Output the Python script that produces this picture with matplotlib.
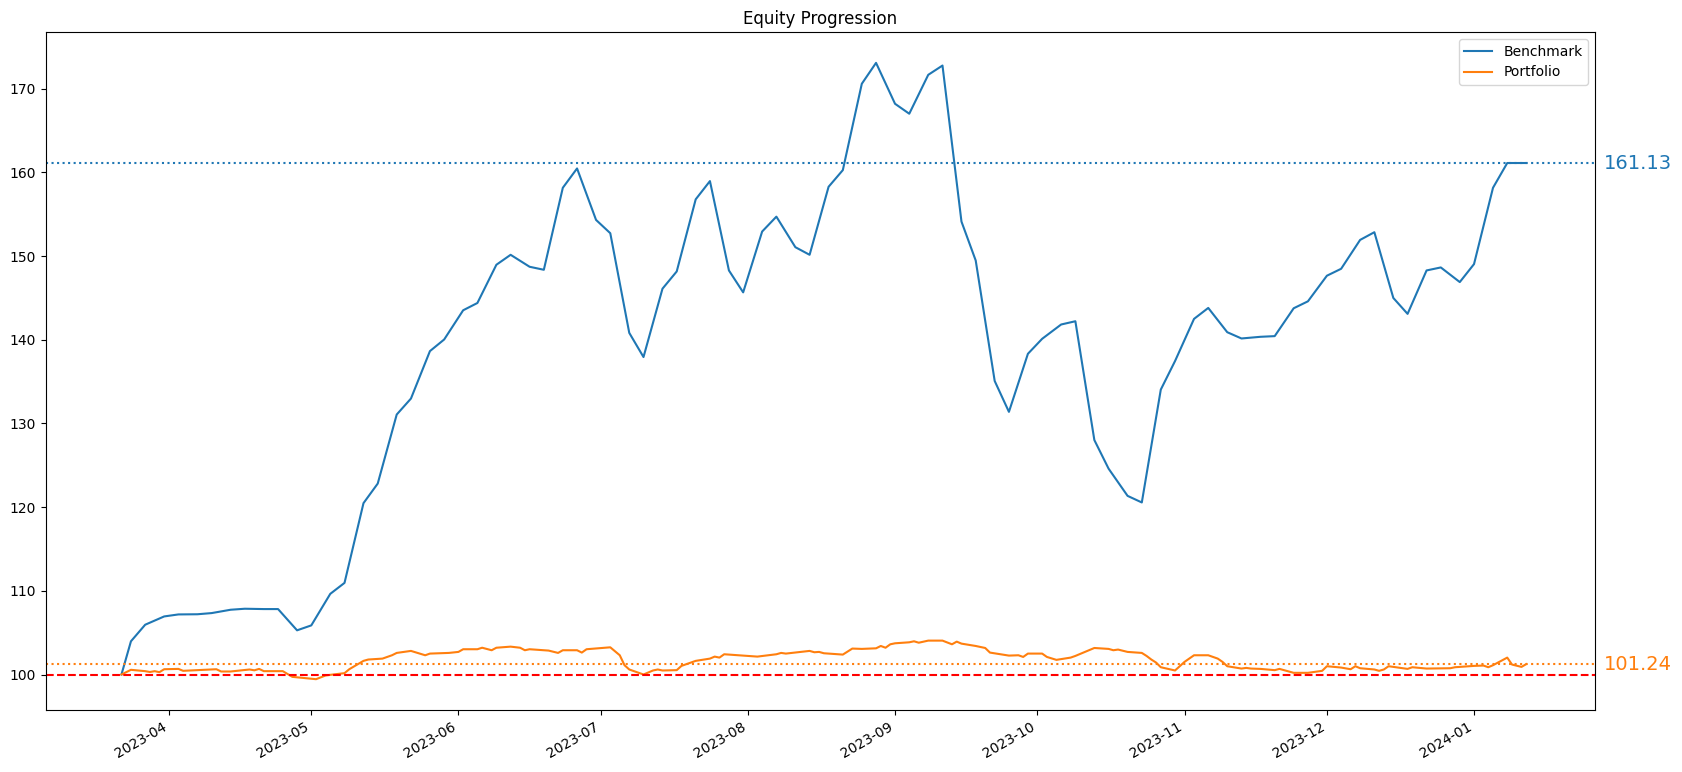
import matplotlib
matplotlib.use("Agg")
import matplotlib.pyplot as plt
import pandas as pd

# Benchmark: sampled on Mondays and Fridays after the start date
bench_dates = pd.DatetimeIndex(["2023-03-22"]).append(
    pd.date_range("2023-03-24", "2024-01-12", freq="W-FRI").union(
        pd.date_range("2023-03-27", "2024-01-12", freq="W-MON")))
bench_values = [
    100.0, 103.97, 105.95, 106.94, 107.18, 107.2, 107.34, 107.74, 107.86, 107.82,
    107.82, 105.28, 105.87, 109.64, 110.95, 120.48, 122.82, 131.07, 132.98, 138.65,
    140.04, 143.53, 144.4, 148.97, 150.16, 148.73, 148.37, 158.17, 160.48, 154.33,
    152.74, 140.83, 137.94, 146.11, 148.17, 156.79, 158.97, 148.29, 145.67, 152.94,
    154.72, 151.07, 150.16, 158.29, 160.28, 170.6, 173.1, 168.21, 167.02, 171.67,
    172.78, 154.13, 149.48, 135.08, 131.39, 138.33, 140.12, 141.83, 142.22, 128.02,
    124.6, 121.35, 120.56, 134.05, 137.46, 142.5, 143.81, 140.91, 140.16, 140.36,
    140.44, 143.77, 144.6, 147.66, 148.49, 151.94, 152.86, 145.0, 143.1, 148.29,
    148.65, 146.9, 149.05, 158.17, 161.13, 161.13,
]

port_dates = pd.to_datetime([
    "2023-03-22", "2023-03-24", "2023-03-27", "2023-03-28", "2023-03-29", "2023-03-30",
    "2023-03-31", "2023-04-03", "2023-04-04", "2023-04-11", "2023-04-12", "2023-04-14",
    "2023-04-18", "2023-04-19", "2023-04-20", "2023-04-21", "2023-04-25", "2023-04-27",
    "2023-05-02", "2023-05-04", "2023-05-05", "2023-05-08", "2023-05-09", "2023-05-12",
    "2023-05-13", "2023-05-16", "2023-05-18", "2023-05-19", "2023-05-22", "2023-05-25",
    "2023-05-26", "2023-05-30", "2023-06-01", "2023-06-02", "2023-06-05", "2023-06-06",
    "2023-06-08", "2023-06-09", "2023-06-12", "2023-06-14", "2023-06-15", "2023-06-16",
    "2023-06-20", "2023-06-22", "2023-06-23", "2023-06-26", "2023-06-27", "2023-06-28",
    "2023-07-03", "2023-07-05", "2023-07-06", "2023-07-07", "2023-07-10", "2023-07-12",
    "2023-07-13", "2023-07-14", "2023-07-17", "2023-07-18", "2023-07-21", "2023-07-24",
    "2023-07-25", "2023-07-26", "2023-07-27", "2023-08-03", "2023-08-07", "2023-08-08",
    "2023-08-09", "2023-08-14", "2023-08-15", "2023-08-16", "2023-08-17", "2023-08-21",
    "2023-08-23", "2023-08-25", "2023-08-28", "2023-08-29", "2023-08-30", "2023-08-31",
    "2023-09-01", "2023-09-04", "2023-09-05", "2023-09-06", "2023-09-08", "2023-09-11",
    "2023-09-13", "2023-09-14", "2023-09-15", "2023-09-18", "2023-09-20", "2023-09-21",
    "2023-09-25", "2023-09-27", "2023-09-28", "2023-09-29", "2023-10-02", "2023-10-03",
    "2023-10-05", "2023-10-08", "2023-10-09", "2023-10-11", "2023-10-13", "2023-10-16",
    "2023-10-17", "2023-10-18", "2023-10-20", "2023-10-23", "2023-10-24", "2023-10-25",
    "2023-10-26", "2023-10-27", "2023-10-30", "2023-11-01", "2023-11-03", "2023-11-06",
    "2023-11-08", "2023-11-09", "2023-11-10", "2023-11-13", "2023-11-14", "2023-11-15",
    "2023-11-17", "2023-11-20", "2023-11-21", "2023-11-24", "2023-11-27", "2023-11-30",
    "2023-12-01", "2023-12-04", "2023-12-06", "2023-12-07", "2023-12-08", "2023-12-11",
    "2023-12-12", "2023-12-13", "2023-12-14", "2023-12-18", "2023-12-19", "2023-12-22",
    "2023-12-27", "2023-12-28", "2024-01-01", "2024-01-03", "2024-01-04", "2024-01-05",
    "2024-01-08", "2024-01-09", "2024-01-11", "2024-01-12",
])
port_values = [
    100.0, 100.56, 100.4, 100.3, 100.4, 100.28,
    100.63, 100.67, 100.44, 100.63, 100.36, 100.36,
    100.6, 100.5, 100.67, 100.4, 100.4, 99.72,
    99.44, 99.88, 99.96, 100.16, 100.63, 101.63,
    101.79, 101.9, 102.3, 102.58, 102.82, 102.3,
    102.5, 102.58, 102.7, 103.02, 103.02, 103.2,
    102.9, 103.2, 103.33, 103.2, 102.9, 103.02,
    102.86, 102.58, 102.9, 102.9, 102.62, 103.02,
    103.25, 102.3, 101.11, 100.6, 100.0, 100.48,
    100.6, 100.48, 100.52, 101.03, 101.63, 101.9,
    102.14, 102.02, 102.42, 102.14, 102.42, 102.58,
    102.5, 102.82, 102.66, 102.7, 102.54, 102.38,
    103.1, 103.06, 103.13, 103.41, 103.2, 103.61,
    103.73, 103.85, 103.97, 103.8, 104.05, 104.05,
    103.61, 103.93, 103.69, 103.41, 103.17, 102.62,
    102.26, 102.3, 102.1, 102.5, 102.5, 102.1,
    101.75, 102.02, 102.22, 102.7, 103.17, 103.06,
    102.9, 102.98, 102.7, 102.58, 102.22, 101.79,
    101.43, 100.87, 100.48, 101.51, 102.3, 102.3,
    101.9, 101.51, 100.99, 100.71, 100.79, 100.71,
    100.67, 100.52, 100.67, 100.2, 100.2, 100.44,
    100.99, 100.83, 100.63, 100.99, 100.75, 100.6,
    100.44, 100.6, 100.99, 100.67, 100.87, 100.71,
    100.75, 100.87, 101.03, 101.07, 100.87, 101.11,
    102.02, 101.19, 100.91, 101.24,
]

bench_final = 161.13
port_final = 101.24
baseline = 100

fig, ax = plt.subplots(figsize=(16.82, 7.72), dpi=100)
ax.plot(bench_dates, bench_values, label="Benchmark")
ax.plot(port_dates, port_values, label="Portfolio")

ax.axhline(bench_final, color="C0", linestyle=":")
ax.axhline(port_final, color="C1", linestyle=":")
ax.axhline(baseline, color="red", linestyle="--")

ax.text(1.006, bench_final, f"{bench_final:.2f}", color="C0", fontsize=14,
        va="center", ha="left", transform=ax.get_yaxis_transform())
ax.text(1.006, port_final, f"{port_final:.2f}", color="C1", fontsize=14,
        va="center", ha="left", transform=ax.get_yaxis_transform())

ax.set_xlim(pd.Timestamp("2023-03-06 02:00"), pd.Timestamp("2024-01-26 12:00"))
ax.set_title("Equity Progression")
ax.legend(loc="upper right")
fig.autofmt_xdate()
fig.subplots_adjust(left=0.0273, right=0.9483, top=0.9585, bottom=0.0803)

fig.savefig("out.png")
